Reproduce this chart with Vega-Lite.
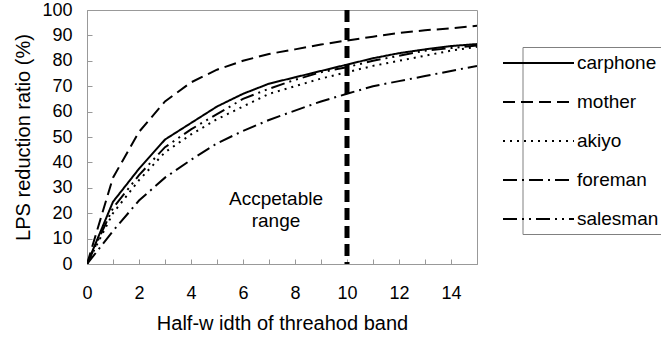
{
  "$schema": "https://vega.github.io/schema/vega-lite/v6.json",
  "width": 390,
  "height": 254,
  "autosize": "none",
  "padding": {"left": 87, "top": 10, "right": 184, "bottom": 81},
  "background": "white",
  "config": {
    "font": "Liberation Sans",
    "view": {"stroke": "#999999", "strokeWidth": 1},
    "axis": {
      "grid": false,
      "domainColor": "#999999",
      "tickColor": "#999999",
      "labelColor": "black",
      "titleColor": "black",
      "labelFont": "Liberation Sans",
      "titleFont": "Liberation Sans",
      "labelFontSize": 18,
      "titleFontSize": 20,
      "titleFontWeight": "normal",
      "labelOverlap": false
    }
  },
  "datasets": {
    "curves": [
      {"series": "carphone", "x": 0, "y": 0},
      {"series": "carphone", "x": 1, "y": 24.5},
      {"series": "carphone", "x": 2, "y": 37.5},
      {"series": "carphone", "x": 3, "y": 49},
      {"series": "carphone", "x": 4, "y": 55.5},
      {"series": "carphone", "x": 5, "y": 62},
      {"series": "carphone", "x": 6, "y": 67},
      {"series": "carphone", "x": 7, "y": 71},
      {"series": "carphone", "x": 8, "y": 73.5},
      {"series": "carphone", "x": 9, "y": 76},
      {"series": "carphone", "x": 10, "y": 78.5},
      {"series": "carphone", "x": 11, "y": 81},
      {"series": "carphone", "x": 12, "y": 83},
      {"series": "carphone", "x": 13, "y": 84.5},
      {"series": "carphone", "x": 14, "y": 85.8},
      {"series": "carphone", "x": 15, "y": 86.6},
      {"series": "mother", "x": 0, "y": 0},
      {"series": "mother", "x": 1, "y": 34},
      {"series": "mother", "x": 2, "y": 52},
      {"series": "mother", "x": 3, "y": 64},
      {"series": "mother", "x": 4, "y": 71.5},
      {"series": "mother", "x": 5, "y": 76.5},
      {"series": "mother", "x": 6, "y": 80},
      {"series": "mother", "x": 7, "y": 82.7},
      {"series": "mother", "x": 8, "y": 84.5},
      {"series": "mother", "x": 9, "y": 86.4},
      {"series": "mother", "x": 10, "y": 88},
      {"series": "mother", "x": 11, "y": 89.5},
      {"series": "mother", "x": 12, "y": 91},
      {"series": "mother", "x": 13, "y": 92},
      {"series": "mother", "x": 14, "y": 92.8},
      {"series": "mother", "x": 15, "y": 93.8},
      {"series": "akiyo", "x": 0, "y": 0},
      {"series": "akiyo", "x": 1, "y": 20},
      {"series": "akiyo", "x": 2, "y": 33},
      {"series": "akiyo", "x": 3, "y": 44},
      {"series": "akiyo", "x": 4, "y": 51},
      {"series": "akiyo", "x": 5, "y": 57},
      {"series": "akiyo", "x": 6, "y": 62},
      {"series": "akiyo", "x": 7, "y": 67},
      {"series": "akiyo", "x": 8, "y": 70},
      {"series": "akiyo", "x": 9, "y": 73},
      {"series": "akiyo", "x": 10, "y": 75.5},
      {"series": "akiyo", "x": 11, "y": 78},
      {"series": "akiyo", "x": 12, "y": 80},
      {"series": "akiyo", "x": 13, "y": 82},
      {"series": "akiyo", "x": 14, "y": 84},
      {"series": "akiyo", "x": 15, "y": 85.5},
      {"series": "foreman", "x": 0, "y": 0},
      {"series": "foreman", "x": 1, "y": 13},
      {"series": "foreman", "x": 2, "y": 25},
      {"series": "foreman", "x": 3, "y": 34},
      {"series": "foreman", "x": 4, "y": 41},
      {"series": "foreman", "x": 5, "y": 47.5},
      {"series": "foreman", "x": 6, "y": 52.4},
      {"series": "foreman", "x": 7, "y": 56.7},
      {"series": "foreman", "x": 8, "y": 60.4},
      {"series": "foreman", "x": 9, "y": 64},
      {"series": "foreman", "x": 10, "y": 67},
      {"series": "foreman", "x": 11, "y": 70},
      {"series": "foreman", "x": 12, "y": 72},
      {"series": "foreman", "x": 13, "y": 74},
      {"series": "foreman", "x": 14, "y": 76},
      {"series": "foreman", "x": 15, "y": 78},
      {"series": "salesman", "x": 0, "y": 0},
      {"series": "salesman", "x": 1, "y": 22},
      {"series": "salesman", "x": 2, "y": 35},
      {"series": "salesman", "x": 3, "y": 46},
      {"series": "salesman", "x": 4, "y": 53},
      {"series": "salesman", "x": 5, "y": 59},
      {"series": "salesman", "x": 6, "y": 65},
      {"series": "salesman", "x": 7, "y": 69},
      {"series": "salesman", "x": 8, "y": 72.5},
      {"series": "salesman", "x": 9, "y": 75.5},
      {"series": "salesman", "x": 10, "y": 77.5},
      {"series": "salesman", "x": 11, "y": 80},
      {"series": "salesman", "x": 12, "y": 82},
      {"series": "salesman", "x": 13, "y": 84},
      {"series": "salesman", "x": 14, "y": 85},
      {"series": "salesman", "x": 15, "y": 86}
    ],
    "marker": [{"x": 10}],
    "note": [{"x": 7.27, "y": 25.6, "label": "Accpetable\nrange"}]
  },
  "layer": [
    {
      "data": {"name": "curves"},
      "mark": {"type": "line", "color": "black", "strokeWidth": 2, "clip": true},
      "encoding": {
        "x": {
          "field": "x",
          "type": "quantitative",
          "scale": {"domain": [0, 15], "nice": false},
          "axis": {
            "title": "Half-w idth of threahod band",
            "values": [0, 1, 2, 3, 4, 5, 6, 7, 8, 9, 10, 11, 12, 13, 14, 15],
            "labelExpr": "datum.value % 2 === 0 && datum.value < 15 ? datum.label : ''",
            "tickSize": -5,
            "labelPadding": 25,
            "titlePadding": 11,
            "labelFlush": false,
            "labelOverlap": false
          }
        },
        "y": {
          "field": "y",
          "type": "quantitative",
          "scale": {"domain": [0, 100], "nice": false},
          "axis": {
            "title": "LPS reduction ratio (%)",
            "values": [0, 10, 20, 30, 40, 50, 60, 70, 80, 90, 100],
            "tickSize": -5,
            "labelPadding": 20,
            "titlePadding": 8,
            "labelOverlap": false,
            "labelBound": false
          }
        },
        "strokeDash": {
          "field": "series",
          "type": "nominal",
          "scale": {
            "domain": ["carphone", "mother", "akiyo", "foreman", "salesman"],
            "range": [[1, 0], [12, 6], [2, 5], [14, 5, 2, 5], [14, 5, 2, 5, 2, 5]]
          },
          "legend": {
            "title": null,
            "orient": "none",
            "legendX": 435.5,
            "legendY": 37,
            "padding": 5,
            "strokeColor": "#808080",
            "fillColor": "white",
            "symbolType": "M-3.55,0H3.55",
            "symbolSize": 400,
            "symbolStrokeWidth": 2,
            "symbolStrokeColor": "black",
            "labelFontSize": 19,
            "labelFont": "Liberation Sans",
            "labelColor": "black",
            "labelOffset": 27.5,
            "rowPadding": 18
          }
        }
      }
    },
    {
      "data": {"name": "marker"},
      "mark": {"type": "rule", "color": "black", "strokeWidth": 5, "strokeDash": [12, 6]},
      "encoding": {
        "x": {
          "field": "x",
          "type": "quantitative",
          "scale": {"domain": [0, 15], "nice": false},
          "axis": {
            "title": "Half-w idth of threahod band",
            "values": [0, 1, 2, 3, 4, 5, 6, 7, 8, 9, 10, 11, 12, 13, 14, 15],
            "labelExpr": "datum.value % 2 === 0 && datum.value < 15 ? datum.label : ''",
            "tickSize": -5,
            "labelPadding": 25,
            "titlePadding": 11,
            "labelFlush": false,
            "labelOverlap": false
          }
        }
      }
    },
    {
      "data": {"name": "note"},
      "mark": {"type": "text", "fontSize": 19, "font": "Liberation Sans", "lineBreak": "\n", "lineHeight": 22, "align": "center", "baseline": "middle", "color": "black"},
      "encoding": {
        "x": {
          "field": "x",
          "type": "quantitative",
          "scale": {"domain": [0, 15], "nice": false},
          "axis": {
            "title": "Half-w idth of threahod band",
            "values": [0, 1, 2, 3, 4, 5, 6, 7, 8, 9, 10, 11, 12, 13, 14, 15],
            "labelExpr": "datum.value % 2 === 0 && datum.value < 15 ? datum.label : ''",
            "tickSize": -5,
            "labelPadding": 25,
            "titlePadding": 11,
            "labelFlush": false,
            "labelOverlap": false
          }
        },
        "y": {
          "field": "y",
          "type": "quantitative",
          "scale": {"domain": [0, 100], "nice": false},
          "axis": {
            "title": "LPS reduction ratio (%)",
            "values": [0, 10, 20, 30, 40, 50, 60, 70, 80, 90, 100],
            "tickSize": -5,
            "labelPadding": 20,
            "titlePadding": 8,
            "labelOverlap": false,
            "labelBound": false
          }
        },
        "text": {"field": "label"}
      }
    }
  ]
}
